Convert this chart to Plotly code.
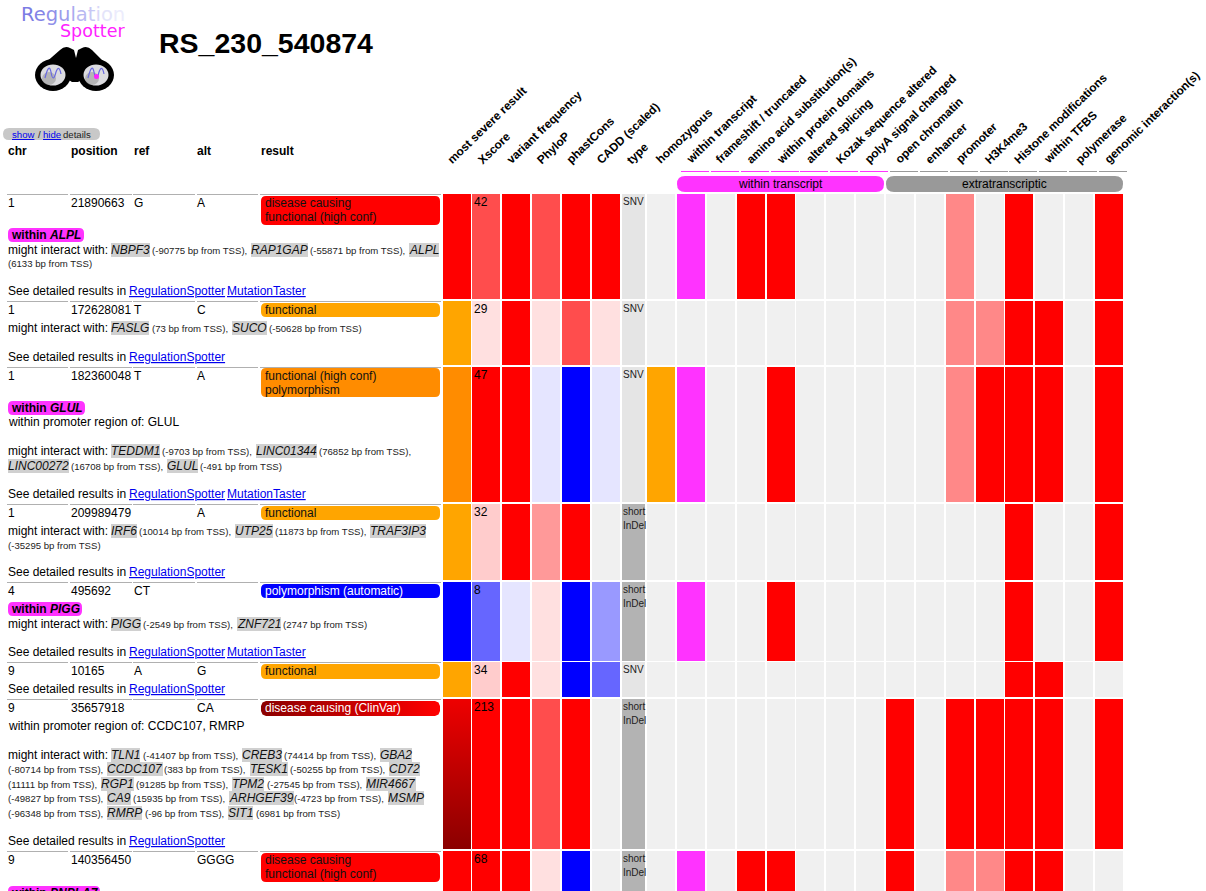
import plotly.graph_objects as go

# ---------- data ----------
title = "RS_230_540874"
table_headers = ["chr", "position", "ref", "alt", "result"]
column_labels = ["most severe result", "Xscore", "variant frequency", "PhyloP", "phastCons", "CADD (scaled)",
                 "type", "homozygous", "within transcript", "frameshift / truncated", "amino acid substitution(s)",
                 "within protein domains", "altered splicing", "Kozak sequence altered", "polyA signal changed",
                 "open chromatin", "enhancer", "promoter", "H3K4me3", "Histone modifications", "within TFBS",
                 "polymerase", "genomic interaction(s)"]
chromosomes = ["1", "1", "1", "1", "4", "9", "9", "9"]
positions = ["21890663", "172628081", "182360048", "209989479", "495692", "10165", "35657918", "140356450"]
refs = ["G", "T", "T", "", "CT", "A", "", ""]
alts = ["A", "C", "A", "A", "", "G", "CA", "GGGG"]
results = [["disease causing", "functional (high conf)"], ["functional"], ["functional (high conf)", "polymorphism"],
           ["functional"], ["polymorphism (automatic)"], ["functional"], ["disease causing (ClinVar)"],
           ["disease causing", "functional (high conf)"]]
xscores = ["42", "29", "47", "32", "8", "34", "213", "68"]
variant_types = ["SNV", "SNV", "SNV", "short InDel", "short InDel", "SNV", "short InDel", "short InDel"]
within_genes = ["ALPL", "", "GLUL", "", "PIGG", "", "", "PNPLA7"]
promoter_of = ["", "", "GLUL", "", "", "", "CCDC107, RMRP", ""]

# one string per variant, one level letter per heat-map column
levels = ["RrRrRRtgMgRRgggggmgRggR",
          "OpRprptggggggggggmmRRgR",
          "DRRlBltOMggRgggggmRRRgR",
          "OcRsRgTggggggggggggRggR",
          "BulpBvTgMggRgggggggRggR",
          "OcRpButggggggggggggRRgg",
          "GRRrRgTggggggggRgRRRRgR",
          "RRRpBgTgMgRRgggRgmmRRgg"]
level_order = "RrmscpBuvlODMgtTG"
level_colors = ["#ff0000", "#ff4d4d", "#ff8888", "#ff9999", "#ffcccc", "#ffe0e0", "#0000ff", "#6666ff", "#9999ff",
                "#e5e5ff", "#ffa500", "#ff8c00", "#ff33ff", "#f0f0f0", "#e5e5e5", "#b3b3b3", "#c00000"]
interactions = [
    [[("NBPF3", "(-90775 bp from TSS),"), ("RAP1GAP", "(-55871 bp from TSS),"), ("ALPL", "")], [("", "(6133 bp from TSS)")]],
    [[("FASLG", "(73 bp from TSS),"), ("SUCO", "(-50628 bp from TSS)")]],
    [[("TEDDM1", "(-9703 bp from TSS),"), ("LINC01344", "(76852 bp from TSS),")],
     [("LINC00272", "(16708 bp from TSS),"), ("GLUL", "(-491 bp from TSS)")]],
    [[("IRF6", "(10014 bp from TSS),"), ("UTP25", "(11873 bp from TSS),"), ("TRAF3IP3", "")], [("", "(-35295 bp from TSS)")]],
    [[("PIGG", "(-2549 bp from TSS),"), ("ZNF721", "(2747 bp from TSS)")]],
    [],
    [[("TLN1", "(-41407 bp from TSS),"), ("CREB3", "(74414 bp from TSS),"), ("GBA2", "")],
     [("", "(-80714 bp from TSS),"), ("CCDC107", "(383 bp from TSS),"), ("TESK1", "(-50255 bp from TSS),"), ("CD72", "")],
     [("", "(11111 bp from TSS),"), ("RGP1", "(91285 bp from TSS),"), ("TPM2", "(-27545 bp from TSS),"), ("MIR4667", "")],
     [("", "(-49827 bp from TSS),"), ("CA9", "(15935 bp from TSS),"), ("ARHGEF39", "(-4723 bp from TSS),"), ("MSMP", "")],
     [("", "(-96348 bp from TSS),"), ("RMRP", "(-96 bp from TSS),"), ("SIT1", "(6981 bp from TSS)")]],
    [],
]
detail_links = [["RegulationSpotter", "MutationTaster"], ["RegulationSpotter"], ["RegulationSpotter", "MutationTaster"],
                ["RegulationSpotter"], ["RegulationSpotter", "MutationTaster"], ["RegulationSpotter"],
                ["RegulationSpotter"], []]
group_labels = ["within transcript", "extratranscriptic"]

# ---------- layout ----------
W, H = 1206, 891
FONT = "Liberation Sans"
cell_left = [443, 472, 502, 532, 562, 592, 622, 647, 677, 707, 737, 767, 796, 826, 856, 886, 916, 946, 976, 1005, 1035, 1065, 1095]
cell_right = [471, 500, 530, 560, 590, 620, 645, 675, 705, 735, 765, 795, 824, 854, 884, 914, 944, 974, 1004, 1033, 1063, 1093, 1123]
row_top = [194, 301, 367, 504, 582, 662, 699, 851]
row_bot = [299, 365, 502, 580, 661, 697, 849, 960]
label_x = [445, 475, 504, 534, 564, 594, 624, 653, 683, 713, 744, 774, 803, 833, 862, 892, 923, 953, 982, 1012, 1041, 1072, 1102]
label_y = 166.5
col_x = [8, 71, 134, 197]
col_rule = [(7, 68), (70, 132), (133, 195), (197, 258), (260, 441)]
first_y = [203, 310, 376, 513, 591, 671, 708, 860]
pill_y = [(196, 225), (303, 317), (368, 397), (506, 520), (584, 598), (664, 679), (701, 716), (853, 882)]
result_colors = ["#ff0000", "#ffa500", "#ff8c00", "#ffa500", "#0000ff", "#ffa500", None, "#ff0000"]
result_text = ["#111111"] * 4 + ["#ffffff", "#111111", "#ffffff", "#111111"]
within_pill = [(8, 84, 228, 242), None, (8, 85, 401, 415), None, (8, 82, 602, 616), None, None, (8, 100, 886, 900)]
promoter_y = [None, None, 422, None, None, None, 726, None]
detail_y = [291, 357, 494, 572, 652, 689, 841, None]
link_x = [128.5, 227]
interact_y = [[250, 263], [328], [451, 466], [531, 545], [624], [], [755, 769, 784, 798, 813], []]
interact_x = [
    [[111, 152, 251, 310, 409], [8]],
    [[111, 152, 232, 269]],
    [[111, 162, 256, 319], [8, 71, 167, 200]],
    [[111, 139, 235, 275, 370], [8]],
    [[111, 143, 237, 283]],
    [],
    [[111, 143, 242, 284, 380], [8, 107, 164, 250, 290, 389], [8, 101, 136, 232, 267, 366],
     [8, 107, 133, 229, 294, 388], [8, 107, 145, 228, 256]],
    [],
]

annotations, shapes = [], []


def text(x, y, s, size=12, color="#000000", bold=False, italic=False, bg=None, anchor="left", font=FONT, under=False,
         vanchor="middle"):
    if bold:
        s = f"<b>{s}</b>"
    if italic:
        s = f"<i>{s}</i>"
    f = dict(family=font, size=size, color=color)
    if under:
        f["lineposition"] = "under"
    a = dict(x=x, y=y, xref="x", yref="y", text=s, showarrow=False, xanchor=anchor, yanchor=vanchor,
             font=f, borderpad=0, borderwidth=0, align="left")
    if bg:
        a["bgcolor"] = bg
    annotations.append(a)


def rrect(x0, y0, x1, y1, r):
    return (f"M {x0+r},{y0} L {x1-r},{y0} Q {x1},{y0} {x1},{y0+r} L {x1},{y1-r} Q {x1},{y1} {x1-r},{y1} "
            f"L {x0+r},{y1} Q {x0},{y1} {x0},{y1-r} L {x0},{y0+r} Q {x0},{y0} {x0+r},{y0} Z")


def pill(x0, y0, x1, y1, r, color):
    shapes.append(dict(type="path", path=rrect(x0, y0, x1, y1, r), xref="x", yref="y", fillcolor=color, line_width=0))


def rule(x0, x1, y, color):
    shapes.append(dict(type="line", x0=x0, x1=x1, y0=y, y1=y, xref="x", yref="y", line=dict(color=color, width=1)))


# ---------- heat map ----------
x_edges = [v for pair in zip(cell_left, cell_right) for v in pair]
y_edges = [v for pair in zip(row_top, row_bot) for v in pair]
z = []
for i, row in enumerate(levels):
    line = []
    for j, ch in enumerate(row):
        line.append(level_order.index(ch))
        if j < len(row) - 1:
            line.append(None)
    z.append(line)
    if i < len(levels) - 1:
        z.append([None] * len(line))
n = len(level_colors)
colorscale = []
for k, c in enumerate(level_colors):
    colorscale += [[k / n, c], [(k + 1) / n, c]]
fig = go.Figure(go.Heatmap(x=x_edges, y=y_edges, z=z, zmin=-0.5, zmax=n - 0.5, colorscale=colorscale,
                           showscale=False, hoverinfo="skip"))

# gradient cell of the ClinVar row and gradient result pill
fig.add_trace(go.Scatter(x=[cell_left[0], cell_right[0], cell_right[0], cell_left[0], cell_left[0]],
                         y=[row_top[6], row_top[6], row_bot[6], row_bot[6], row_top[6]], mode="none", fill="toself",
                         fillgradient=dict(type="vertical", colorscale=[[0, "#8b0000"], [1, "#ee0000"]]),
                         hoverinfo="skip"))
px0, px1, py0, py1, pr = 261, 440, 701, 716, 5
fig.add_trace(go.Scatter(
    x=[px0 + pr, px1 - pr, px1 - 1.5, px1, px1, px1 - 1.5, px1 - pr, px0 + pr, px0 + 1.5, px0, px0, px0 + 1.5, px0 + pr],
    y=[py0, py0, py0 + 1.5, py0 + pr, py1 - pr, py1 - 1.5, py1, py1, py1 - 1.5, py1 - pr, py0 + pr, py0 + 1.5, py0],
    mode="none", fill="toself",
    fillgradient=dict(type="horizontal", colorscale=[[0, "#8b0000"], [1, "#ff0000"]]), hoverinfo="skip"))

# ---------- header ----------
text(158.5, 42.5, title, size=28.5, bold=True)
reg_colors = ["#7c7ce4", "#8484e6", "#8f8fe9", "#9c9cec", "#aaaaef", "#b9b9f2", "#c8c8f5", "#d8d8f8", "#e4e4fa", "#ecECfc"]
text(21, 14, "".join(f'<span style="color:{c}">{ch}</span>' for ch, c in zip("Regulation", reg_colors)), size=19.5, font="DejaVu Sans")
text(59.5, 31, "Spotter", size=17.5, color="#ff22ff", font="DejaVu Sans")

# binoculars logo
shapes.append(dict(type="path", xref="x", yref="y", fillcolor="#000000", line_width=0,
                   path="M 44,64 L 60,50 Q 65,45 70,48 L 74,50 L 76,58 L 78,50 L 82,48 Q 87,45 92,50 L 106,64 L 78,82 L 72,82 Z"))
for cx in (53, 96):
    shapes.append(dict(type="circle", xref="x", yref="y", x0=cx - 18, x1=cx + 18, y0=59, y1=91, fillcolor="#000000", line_width=0))
    shapes.append(dict(type="circle", xref="x", yref="y", x0=cx - 12.5, x1=cx + 12.5, y0=64.5, y1=85.5, fillcolor="#dcdce0", line_width=0))
    shapes.append(dict(type="circle", xref="x", yref="y", x0=cx - 11, x1=cx + 3, y0=72, y1=85, fillcolor="#999999", line_width=0, opacity=0.6))
    shapes.append(dict(type="path", xref="x", yref="y", line=dict(color="#6a6ae0", width=1.2),
                       path=f"M {cx-8},78 Q {cx-4},62 {cx-2},72 Q {cx},84 {cx+3},72 Q {cx+6},64 {cx+8},74"))
shapes.append(dict(type="circle", xref="x", yref="y", x0=94, x1=99, y0=74, y1=79, fillcolor="#ff22ff", line_width=0))

# show / hide
pill(3, 128, 100, 140, 6, "#c8c8c8")
text(12, 134, "show", size=9.6, color="#0000ee", under=True)
text(37.5, 134, "/", size=9.6, color="#222222")
text(42.5, 134, "hide", size=9.6, color="#0000ee", under=True)
text(63, 134, "details", size=9.6, color="#222222")

for x, h in zip(col_x + [261], table_headers):
    text(x, 151, h, bold=True)

for x, s in zip(label_x, column_labels):
    annotations.append(dict(x=x, y=label_y, xref="x", yref="y", text=f"<b>{s}</b>", showarrow=False, textangle=-44,
                            xanchor="left", yanchor="bottom", font=dict(family=FONT, size=11.8, color="#000000"),
                            borderpad=0, borderwidth=0))

for j in range(8, 23):
    rule(cell_left[j] + 4, cell_right[j] + 4, 171.5, "#ff33ff" if j < 15 else "#999999")
pill(cell_left[8], 176, cell_right[14], 192, 8, "#ff33ff")
pill(cell_left[15], 176, cell_right[22], 192, 8, "#999999")
text((cell_left[8] + cell_right[14]) / 2, 184, group_labels[0], size=12, anchor="center")
text((cell_left[15] + cell_right[22]) / 2, 184, group_labels[1], size=12, anchor="center")

# ---------- rows ----------
for i in range(8):
    for a, b in col_rule:
        rule(a, b, row_top[i] + 0.5, "#b0b0b0")
    y = first_y[i]
    for x, s in zip(col_x, [chromosomes[i], positions[i], refs[i], alts[i]]):
        if s:
            text(x, y, s)
    y0, y1 = pill_y[i]
    if result_colors[i]:
        pill(261, y0, 440, y1, 5, result_colors[i])
    for k, s in enumerate(results[i]):
        text(264.5, y + 14.3 * k, s, color=result_text[i])

    if within_pill[i]:
        x0, x1, wy0, wy1 = within_pill[i]
        pill(x0, wy0, x1, wy1, 5, "#ff33ff")
        text(x0 + 3, wy0, f"<b>within <i>{within_genes[i]}</i></b>", vanchor="top")
    if promoter_y[i]:
        text(8, promoter_y[i], f"within promoter region of: {promoter_of[i]}")
    if interactions[i]:
        text(8, interact_y[i][0], "might interact with:")
    for ly, line, xs in zip(interact_y[i], interactions[i], interact_x[i]):
        runs = []
        for gene, note in line:
            if gene:
                runs.append((gene, True))
            if note:
                runs.append((note, False))
        for (s, is_gene), x in zip(runs, xs):
            if is_gene:
                text(x, ly, s, italic=True, bg="#d0d0d0", color="#111111")
            else:
                text(x, ly + 0.5, s, size=9.6, color="#222222")
    if detail_y[i]:
        text(8, detail_y[i], "See detailed results in")
        for x, s in zip(link_x, detail_links[i]):
            text(x, detail_y[i], s, color="#0000ee", under=True)

    # text inside heat-map cells
    text(cell_left[1] + 1.5, row_top[i] + 8, xscores[i])
    for k, s in enumerate(variant_types[i].split(" ")):
        text(cell_left[6] + 0.5, row_top[i] + 7.5 + 14 * k, s, size=10, color="#222222")

fig.update_layout(width=W, height=H, margin=dict(l=0, r=0, t=0, b=0), paper_bgcolor="#ffffff", plot_bgcolor="#ffffff",
                  showlegend=False, annotations=annotations, shapes=shapes,
                  xaxis=dict(range=[0, W], visible=False, fixedrange=True),
                  yaxis=dict(range=[H, 0], visible=False, fixedrange=True))
fig.write_html("out.html", config=dict(displayModeBar=False),
               post_script="document.body.style.margin='0';document.body.style.overflow='hidden';")
